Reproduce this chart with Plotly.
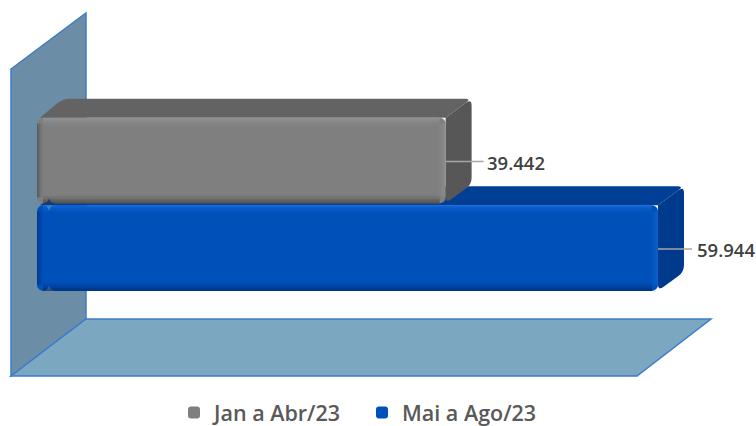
import plotly.graph_objects as go

# Data
periods = ["Jan a Abr/23", "Mai a Ago/23"]
values = [39442, 59944]
labels = ["39.442", "59.944"]
front_colors = ["#7f7f7f", "#0050b9"]
top_colors = ["#636363", "#003f95"]
side_colors = ["#575757", "#003a8c"]
light_colors = ["#a0a0a0", "#1f78e8"]
dark_colors = ["#3c3c3c", "#00296b"]

W, H = 756, 426
X0_PX = 37
K = 59944 / 621        # data units per pixel
PITCH = 87.5
YC = 160.5
BAR = 0.98
DX, DY = 26, 19        # depth of the bars, pixels
CAP = 12 * K           # left end of each bar, drawn so that it is rounded too


def xd(px):
    return (px - X0_PX) * K


def yd(px):
    return (px - YC) / PITCH


def pt(x, y):
    return f"{x:.1f},{y:.4f}"


def wall(points, fill):
    path = "M" + "L".join(pt(xd(a), yd(b)) for a, b in points) + "Z"
    return dict(type="path", path=path, xref="x", yref="y", layer="below",
                fillcolor=fill, line=dict(color="#3c7ccb", width=1.5))


def rounded_face(points, fill, r=7):
    n = len(points)
    d = ""
    for i in range(n):
        x, y, rnd = points[i]
        if not rnd:
            d += ("M" if i == 0 else "L") + pt(x, y)
            continue
        px, py, _ = points[i - 1]
        nx, ny, _ = points[(i + 1) % n]

        def toward(ax, ay, bx, by):
            dxp = (bx - ax) / K
            dyp = (by - ay) * PITCH
            ln = (dxp ** 2 + dyp ** 2) ** 0.5
            t = min(r / ln, 0.5)
            return ax + (bx - ax) * t, ay + (by - ay) * t
        a = toward(x, y, px, py)
        b = toward(x, y, nx, ny)
        d += ("M" if i == 0 else "L") + pt(*a) + "Q" + pt(x, y) + " " + pt(*b)
    return dict(type="path", path=d + "Z", xref="x", yref="y", layer="below",
                fillcolor=fill, line=dict(width=0))


shapes = [
    wall([(11, 69), (86, 13), (86, 319), (11, 376)], "#6b8da5"),
    wall([(11, 376), (86, 319), (711, 319), (637, 376)], "#7ba7c1"),
]

dxk = DX * K
dyk = DY / PITCH
for i in [1, 0]:
    v = values[i]
    t, b = i - BAR / 2, i + BAR / 2
    shapes.append(rounded_face([(3 * K, t, False), (dxk, t - dyk, True),
                                (v + dxk, t - dyk, True), (v, t, False)], top_colors[i]))
    shapes.append(rounded_face([(v, t, False), (v + dxk, t - dyk, True),
                                (v + dxk, b - dyk, True), (v, b, True)], side_colors[i]))

fig = go.Figure()
for i in range(2):
    fig.add_trace(go.Bar(
        x=[values[i] - CAP], base=[CAP], y=[i], orientation="h", width=BAR, name=periods[i],
        marker=dict(color=front_colors[i], line=dict(width=0)),
        hoverinfo="skip",
    ))
    fig.add_trace(go.Bar(
        x=[-CAP], base=[CAP], y=[i], orientation="h", width=BAR, showlegend=False,
        marker=dict(color=front_colors[i], line=dict(width=0)),
        hoverinfo="skip",
    ))

STEPS = 6
for i in range(2):
    v = values[i]
    t, b = i - BAR / 2, i + BAR / 2
    inset = 6 * K
    vin = 6 / PITCH
    for s in range(STEPS):
        a = 0.42 * (1 - s / STEPS)
        th = (s + 1) * 1.5
        shapes.append(dict(type="rect", xref="x", yref="y", x0=inset, x1=v - inset,
                           y0=t, y1=t + th / PITCH, layer="above", line=dict(width=0),
                           fillcolor=light_colors[i], opacity=a * 0.5))
        shapes.append(dict(type="rect", xref="x", yref="y", x0=inset, x1=v - inset,
                           y0=b - th / PITCH, y1=b, layer="above", line=dict(width=0),
                           fillcolor=dark_colors[i], opacity=a * 0.6))
        shapes.append(dict(type="rect", xref="x", yref="y", x0=v - th * K, x1=v,
                           y0=t + vin, y1=b - vin, layer="above", line=dict(width=0),
                           fillcolor=light_colors[i], opacity=a * 0.35))
        shapes.append(dict(type="rect", xref="x", yref="y", x0=0, x1=th * 0.7 * K,
                           y0=t + vin, y1=b - vin, layer="above", line=dict(width=0),
                           fillcolor=dark_colors[i], opacity=a * 0.4))
    shapes.append(dict(type="line", xref="x", yref="y", x0=v, x1=v + (38 - i * 4) * K,
                       y0=i + 1 / PITCH, y1=i + 1 / PITCH, layer="above",
                       line=dict(color="#a6a6a6", width=1.5)))
    fig.add_annotation(x=v + (39 - i * 2) * K, y=i + 1.5 / PITCH, xanchor="left", yanchor="middle",
                       text=labels[i], showarrow=False, xref="x", yref="y",
                       font=dict(family="Open Sans", size=18.5, color="#404040", weight=600))

fig.update_layout(
    width=W, height=H, margin=dict(l=0, r=0, t=0, b=0, autoexpand=False),
    paper_bgcolor="white", plot_bgcolor="white",
    barmode="overlay", barcornerradius=6, shapes=shapes,
    xaxis=dict(visible=False, range=[xd(0), xd(W)], fixedrange=True),
    yaxis=dict(visible=False, range=[yd(H), yd(0)], fixedrange=True),
    showlegend=True,
    legend=dict(orientation="h", x=174 / W, y=1 - 392 / H, xanchor="left", yanchor="top",
                font=dict(family="Open Sans", size=21.5, color="#595959", weight=600),
                entrywidth=143, entrywidthmode="pixels", bgcolor="rgba(0,0,0,0)",
                traceorder="normal"),
)
fig.write_html("out.html", post_script="document.body.style.margin='0';",
               config=dict(displayModeBar=False))
